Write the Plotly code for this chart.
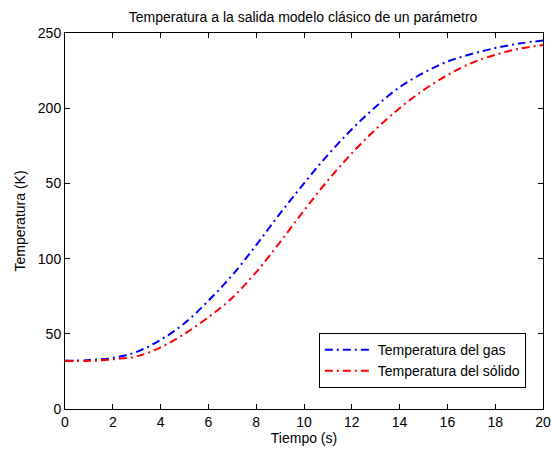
import plotly.graph_objects as go

# Time (s)
tiempo = [0, 1, 2, 3, 4, 5, 6, 7, 8, 9, 10, 11, 12, 13, 14, 15, 16, 17, 18, 19, 20]
# Outlet gas temperature
t_gas = [32, 32.5, 34, 38, 46, 57, 72, 89, 109, 130, 150, 169, 186, 201, 214,
         223.5, 231, 236, 240, 243, 245]
# Outlet solid temperature
t_solido = [32, 32, 33, 35, 41, 50, 61, 74, 91, 111, 132, 152, 170, 186, 200,
            212, 222, 230, 235.5, 239.5, 242]

y_tickvals = [0, 50, 100, 150, 200, 250]
y_ticktext = ["0", "50", "100", "50", "200", "250"]
x_tickvals = [0, 2, 4, 6, 8, 10, 12, 14, 16, 18, 20]

dash = "8px,4px,2px,4px"
fnt = dict(family="Liberation Sans, Arial, Helvetica, sans-serif", size=14, color="black")

fig = go.Figure()
fig.add_trace(go.Scatter(x=tiempo, y=t_gas, mode="lines",
                         name="Temperatura del gas",
                         line=dict(color="#0000ff", width=2, dash=dash, shape="spline")))
fig.add_trace(go.Scatter(x=tiempo, y=t_solido, mode="lines",
                         name="Temperatura del sólido",
                         line=dict(color="#ff0000", width=2, dash=dash, shape="spline")))

axis_common = dict(showline=True, linecolor="black", linewidth=1, mirror="ticks",
                   ticks="inside", ticklen=5, tickcolor="black", showgrid=False,
                   zeroline=False, tickfont=fnt, automargin=False)

fig.update_layout(
    width=551, height=453,
    margin=dict(l=65, r=8, t=33, b=44),
    paper_bgcolor="white", plot_bgcolor="white",
    font=fnt,
    title=dict(text="Temperatura a la salida modelo clásico de un parámetro",
               x=0.55, xanchor="center", y=0.962, yanchor="middle", font=fnt),
    xaxis=dict(range=[0, 20], tickvals=x_tickvals,
               title=dict(text="Tiempo (s)", font=fnt, standoff=2), **axis_common),
    yaxis=dict(range=[0, 250], tickvals=y_tickvals, ticktext=y_ticktext,
               title=dict(text="Temperatura (K)", font=fnt, standoff=8), **axis_common),
    legend=dict(x=0.531, y=0.202, xanchor="left", yanchor="top",
                bordercolor="black", borderwidth=1, bgcolor="white",
                font=fnt, tracegroupgap=0, itemwidth=48),
    showlegend=True,
)

fig.write_html("out.html")
